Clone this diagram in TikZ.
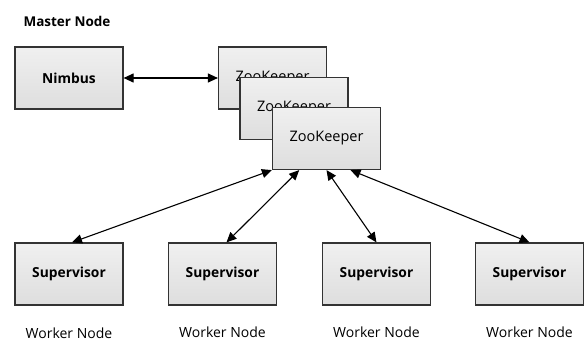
\documentclass[tikz,border=0pt]{standalone}
\usepackage{fontspec}
\setmainfont{Open Sans}
\usepackage{tikz}
\usetikzlibrary{arrows.meta}
\usetikzlibrary{calc}

\tikzset{
    box/.style = {rectangle, draw = black!80, line width = 1.2pt,
        minimum width = 108pt, minimum height = 62pt,
        top color = black!6, bottom color = black!13, font = \fontsize{14.5}{16}\selectfont},
    boldbox/.style = {box, font = \fontsize{13.8}{16}\selectfont\bfseries},
    link/.style = {{Triangle[length=10pt,width=9pt]}-{Triangle[length=10pt,width=9pt]}, line width = 1.1pt},
    caption/.style = {font = \fontsize{14}{16}\selectfont}
}

\begin{document}
\begin{tikzpicture}[x=1pt, y=-1pt]
            \useasboundingbox (0,0) rectangle (584,342);

            \node[caption, font = \fontsize{13.5}{16}\selectfont\bfseries] (master) at (67,21) {Master Node};

            \node[boldbox] (nimbus) at (69,78) {Nimbus};

            % stacked zookeepers
            \node[box] (zk1) at (272.5,78) {ZooKeeper};
            \node[box] (zk2) at (294,108.5) {ZooKeeper};
            \node[box] (zk3) at (326.5,138.5) {ZooKeeper};

            \draw[link] (nimbus) -- (zk1);

            \node[boldbox] (sup1) at (69,274) {Supervisor};
            \node[boldbox] (sup2) at (222.5,274) {Supervisor};
            \node[boldbox] (sup3) at (376.5,274) {Supervisor};
            \node[boldbox] (sup4) at (529.5,274) {Supervisor};

            \node[caption] (w1) at (69,333) {Worker Node};
            \node[caption] (w2) at (222.5,332) {Worker Node};
            \node[caption] (w3) at (376.5,332) {Worker Node};
            \node[caption] (w4) at (529.5,332) {Worker Node};

            \draw[link] (zk3.south west) -- ($(sup1.north)+(3,0)$);
            \draw[link] ($(zk3.south west)!0.25!(zk3.south east)$) -- ($(sup2.north)+(4,0)$);
            \draw[link] (zk3.south) -- (sup3.north);
            \draw[link] ($(zk3.south west)!0.72!(zk3.south east)$) -- (sup4.north);
        \end{tikzpicture}
\end{document}
